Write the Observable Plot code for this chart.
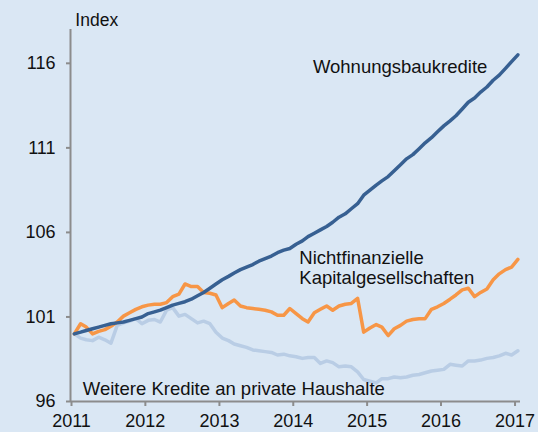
<!DOCTYPE html>
<html>
<head>
<meta charset="utf-8">
<script src="https://cdn.jsdelivr.net/npm/d3@7"></script>
<script src="https://cdn.jsdelivr.net/npm/@observablehq/plot@0.6"></script>
<style>
  html, body { margin: 0; padding: 0; background: #dae7f4; }
  #chart { width: 538px; height: 432px; overflow: hidden; }
</style>
</head>
<body>
<div id="chart"></div>
<script>
// Monthly index values, Jan 2011 – Jan 2017 (Jan 2011 = 100)
const wohnungsbau = [
  100.0, 100.1, 100.2, 100.3, 100.4, 100.5, 100.6, 100.65, 100.7, 100.8, 100.9, 101.0,
  101.2, 101.3, 101.4, 101.55, 101.7, 101.8, 101.9, 102.05, 102.25, 102.45, 102.7, 102.95,
  103.2, 103.4, 103.6, 103.8, 103.95, 104.1, 104.3, 104.45, 104.6, 104.8, 104.95, 105.05,
  105.3, 105.5, 105.75, 105.95, 106.15, 106.35, 106.6, 106.9, 107.1, 107.4, 107.7, 108.2,
  108.5, 108.8, 109.05, 109.3, 109.65, 110.0, 110.35, 110.6, 110.95, 111.3, 111.6, 111.95,
  112.3, 112.6, 112.9, 113.3, 113.7, 113.95, 114.3, 114.6, 115.0, 115.3, 115.7, 116.1,
  116.5
];
const nichtfinanzielle = [
  100.0, 100.6, 100.4, 100.0, 100.15, 100.25, 100.45, 100.7, 101.05, 101.25, 101.45, 101.6,
  101.7, 101.75, 101.75, 101.85, 102.2, 102.35, 102.95, 102.8, 102.8, 102.45, 102.4, 102.3,
  101.55, 101.8, 102.0, 101.65, 101.55, 101.5, 101.45, 101.4, 101.3, 101.1, 101.1, 101.5,
  101.2, 100.9, 100.7, 101.25, 101.45, 101.65, 101.4, 101.65, 101.75, 101.8, 102.1, 100.1,
  100.35, 100.55, 100.4, 99.9, 100.3, 100.5, 100.75, 100.85, 100.9, 100.9, 101.45, 101.6,
  101.8, 102.05, 102.3, 102.6, 102.7, 102.2, 102.45, 102.65, 103.2, 103.55, 103.8, 103.95,
  104.4
];
const weitere = [
  100.0, 99.75, 99.65, 99.6, 99.8, 99.65, 99.45, 100.5, 100.65, 100.75, 100.9, 100.6,
  100.8, 100.85, 100.7, 101.4, 101.55, 101.05, 101.15, 100.9, 100.65, 100.75, 100.6, 100.1,
  99.75, 99.6, 99.4, 99.3, 99.2, 99.05, 99.0, 98.95, 98.9, 98.75, 98.8, 98.7,
  98.65, 98.55, 98.6, 98.6, 98.25, 98.4, 98.3, 98.05, 98.1, 98.05, 97.75, 97.3,
  97.2, 97.1, 97.35, 97.35, 97.45, 97.4, 97.45, 97.55, 97.6, 97.7, 97.8, 97.85,
  97.9, 98.2, 98.15, 98.1, 98.4, 98.4, 98.45, 98.55, 98.6, 98.7, 98.85, 98.75,
  99.0
];
const yTicks = [96, 101, 106, 111, 116];
const xTickYears = [2011, 2012, 2013, 2014, 2015, 2016, 2017];
const seriesNames = ["Wohnungsbaukredite", "Nichtfinanzielle\nKapitalgesellschaften", "Weitere Kredite an private Haushalte"];
const colors = ["#376092", "#f79646", "#b9cde5"];

const months = d3.range(wohnungsbau.length).map(i => new Date(Date.UTC(2011, i, 15)));
const toRows = (vals, s) => vals.map((v, i) => ({date: months[i], value: v, series: s}));
const rows = [
  ...toRows(weitere, seriesNames[2]),
  ...toRows(nichtfinanzielle, seriesNames[1]),
  ...toRows(wohnungsbau, seriesNames[0])
];
const xTicks = xTickYears.map(y => new Date(Date.UTC(y, 0, 1)));

const labels = [
  {date: new Date(Date.UTC(2014, 3, 8)), value: 115.8, text: seriesNames[0]},
  {date: new Date(Date.UTC(2014, 0, 31)), value: 103.9, text: seriesNames[1]},
  {date: new Date(Date.UTC(2011, 1, 26)), value: 96.77, text: seriesNames[2]}
];

const font = "'Liberation Sans', Arial, sans-serif";
const chart = Plot.plot({
  width: 538,
  height: 432,
  marginLeft: 71,
  marginRight: 18,
  marginTop: 29,
  marginBottom: 31,
  style: {background: "#dae7f4", fontFamily: font, fontSize: "18px", color: "#111"},
  x: {type: "utc", domain: [new Date(Date.UTC(2011, 0, 1)), new Date(Date.UTC(2017, 0, 28))]},
  y: {domain: [96, 118]},
  color: {domain: seriesNames, range: colors},
  marks: [
    Plot.ruleY([96], {stroke: "#8c8c8c", strokeWidth: 2}),
    Plot.ruleX([new Date(Date.UTC(2011, 0, 1))], {stroke: "#8c8c8c", strokeWidth: 2, dx: -1}),
    Plot.axisX({ticks: xTicks, tickFormat: d3.utcFormat("%Y"), tickSize: 5, tickPadding: 8, stroke: "#8c8c8c", strokeWidth: 2, fontSize: 18, label: null}),
    Plot.axisY({ticks: yTicks, tickSize: 5, tickPadding: 11, stroke: "#8c8c8c", strokeWidth: 2, fontSize: 18, label: null}),
    Plot.line(rows, {x: "date", y: "value", z: "series", stroke: "series", strokeWidth: 3.5, curve: "linear"}),
    Plot.text(labels, {x: "date", y: "value", text: "text", textAnchor: "start", lineHeight: 1.07, fontSize: 18.5, fill: "#111"}),
    Plot.text(["Index"], {x: () => new Date(Date.UTC(2011, 0, 20)), y: () => 118.53, textAnchor: "start", fontSize: 17.5, fill: "#111"})
  ]
});
document.getElementById("chart").appendChild(chart);
</script>
</body>
</html>
